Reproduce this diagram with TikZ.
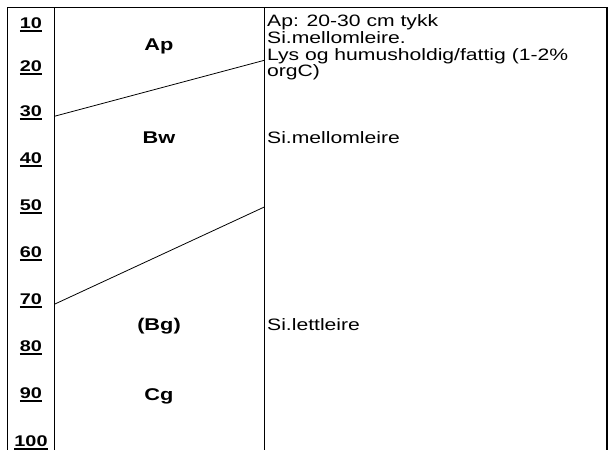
\documentclass[tikz,border=0pt]{standalone}
\usepackage{fontspec}
\setmainfont[FakeStretch=1.28]{Liberation Sans}
% underlined depth number
\newcommand\dmark[1]{\vtop{\hbox{#1}\kern1.4pt\hrule height 2.2pt}}
\begin{document}
\begin{tikzpicture}[x=1pt, y=-1pt,
    frame/.style={line width=1.1pt},
    boundary/.style={line width=0.8pt},
    depth/.style={font=\fontsize{15.5}{15.5}\selectfont\bfseries, anchor=base, inner sep=0pt},
    horizon/.style={font=\fontsize{17}{17}\selectfont\bfseries, anchor=base, inner sep=0pt},
    note/.style={font=\fontsize{16.5}{16.5}\selectfont, anchor=base west, inner sep=0pt}]
        \useasboundingbox (0,0) rectangle (611,450);
        % frame and columns
        \draw[frame] (7.5,450) -- (7.5,7.5) -- (607,7.5) -- (607,450);
        \draw[frame] (54.3,7.5) -- (54.3,450);
        \draw[frame] (264.3,7.5) -- (264.3,450);
        % depth scale
        \foreach \d/\y in {10/28, 20/71, 30/116, 40/163, 50/210, 60/257, 70/304, 80/351, 90/398, 100/446} {
            \node[depth] (d\d) at (31, \y) {\dmark{\d}};
        }
        % horizon boundaries
        \coordinate (apL) at (54.3, 116.3);
        \coordinate (apR) at (264.3, 60.3);
        \coordinate (bwL) at (54.3, 304.3);
        \coordinate (bwR) at (264.3, 207);
        \draw[boundary] (apL) -- (apR);
        \draw[boundary] (bwL) -- (bwR);
        % horizons
        \node[horizon] (ap) at (159, 50) {Ap};
        \node[horizon] (bw) at (159, 143) {Bw};
        \node[horizon] (bg) at (159, 330) {(Bg)};
        \node[horizon] (cg) at (159, 400) {Cg};
        % descriptions
        \node[note] (n1) at (267, 26.5) {Ap: 20-30 cm tykk};
        \node[note] (n2) at (267, 43.3) {Si.mellomleire.};
        \node[note] (n3) at (267, 60.1) {Lys og humusholdig/fattig (1-2\%};
        \node[note] (n4) at (267, 76.9) {orgC)};
        \node[note] (n5) at (267, 143) {Si.mellomleire};
        \node[note] (n6) at (267, 330) {Si.lettleire};
    \end{tikzpicture}
\end{document}
